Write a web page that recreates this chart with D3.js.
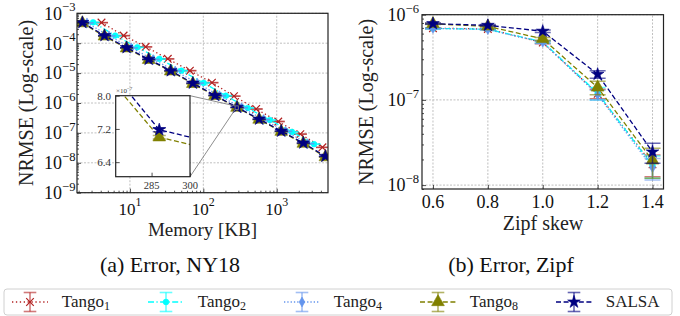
<!DOCTYPE html>
<html>
<head>
<meta charset="utf-8">
<script src="https://cdn.jsdelivr.net/npm/d3@7"></script>
<style>
body { margin: 0; background: #fff; }
svg { display: block; }
svg text { font-family: 'Liberation Serif', 'Times New Roman', 'DejaVu Serif', serif; }
</style>
</head>
<body>
<svg id="fig" width="680" height="316" font-family="Liberation Serif, DejaVu Serif, serif"></svg>
<script>
// ---------- (a) NY18: NRMSE vs memory [KB]
let salsaMem  = [2.25, 4.5, 9, 18, 36, 72, 144, 288, 576, 1152, 2304, 4608];
let salsaNY   = [4.9e-4, 1.8e-4, 7.1e-5, 2.9e-5, 1.2e-5, 4.6e-6, 1.8e-6, 7.18e-7, 2.9e-7, 1.15e-7, 4.6e-8, 1.65e-8];
let salsaNYe  = [5e-6, 2e-6, 7e-7, 3e-7, 1.2e-7, 5e-8, 2e-8, 5e-9, 3e-9, 1.2e-9, 5e-10, 2e-10];

let tango8Mem = [2.25, 4.5, 9, 18, 36, 72, 144, 288, 576, 1152, 2304, 4608];
let tango8NY  = [4.7e-4, 1.7e-4, 6.8e-5, 2.8e-5, 1.15e-5, 4.4e-6, 1.75e-6, 7.0e-7, 2.8e-7, 1.1e-7, 4.4e-8, 1.55e-8];
let tango8NYe = [5e-6, 2e-6, 7e-7, 3e-7, 1.2e-7, 5e-8, 2e-8, 4e-9, 3e-9, 1.2e-9, 5e-10, 2e-10];

let tango4Mem = [2.6, 5.2, 10.4, 20.7, 41.4, 83, 166, 331, 662, 1325, 2650];
let tango4NY  = [4.8e-4, 1.75e-4, 7.0e-5, 2.85e-5, 1.18e-5, 4.6e-6, 1.75e-6, 7.0e-7, 2.8e-7, 1.12e-7, 4.4e-8];
let tango4NYe = [5e-6, 2e-6, 7e-7, 3e-7, 1.2e-7, 5e-8, 2e-8, 7e-9, 3e-9, 1.2e-9, 5e-10];

let tango2Mem = [3.15, 6.3, 12.6, 25.2, 50.4, 101, 202, 403, 806, 1613, 3226];
let tango2NY  = [5.0e-4, 1.8e-4, 7.3e-5, 3.0e-5, 1.2e-5, 4.7e-6, 1.75e-6, 6.8e-7, 2.7e-7, 1.08e-7, 4.2e-8];
let tango2NYe = [5e-6, 2e-6, 7e-7, 3e-7, 1.2e-7, 5e-8, 2e-8, 7e-9, 3e-9, 1.2e-9, 5e-10];

let tango1Mem = [4.1, 8.2, 16.4, 32.8, 65.6, 131, 262, 525, 1050, 2100, 4200];
let tango1NY  = [4.9e-4, 1.8e-4, 7.6e-5, 3.0e-5, 1.2e-5, 4.8e-6, 1.7e-6, 6.3e-7, 2.4e-7, 9.1e-8, 3.3e-8];
let tango1NYe = [5e-6, 2e-6, 8e-7, 3e-7, 1.2e-7, 5e-8, 2e-8, 7e-9, 3e-9, 1e-9, 4e-10];

// ---------- (b) Zipf: NRMSE vs skew
let zipfSkew  = [0.6, 0.8, 1.0, 1.2, 1.4];
let salsaZ    = [7.85e-7, 7.5e-7, 6.4e-7, 2.0e-7, 2.45e-8];
let salsaZe   = [1.5e-8, 1.5e-8, 2e-8, 2e-8, 6.5e-9];
let tango8Z   = [7.8e-7, 7.3e-7, 5.2e-7, 1.4e-7, 1.95e-8];
let tango8Ze  = [1.5e-8, 1.5e-8, 2e-8, 2.5e-8, 7.5e-9];
let tango4Z   = [6.9e-7, 6.7e-7, 4.75e-7, 1.15e-7, 1.6e-8];
let tango4Ze  = [1e-8, 1e-8, 1.5e-8, 1.5e-8, 4.5e-9];
let tango2Z   = [6.9e-7, 6.75e-7, 4.8e-7, 1.2e-7, 1.7e-8];
let tango2Ze  = [1e-8, 1e-8, 1.5e-8, 2e-8, 5e-9];
let tango1Z   = [6.95e-7, 6.8e-7, 4.7e-7, 1.18e-7, 1.75e-8];
let tango1Ze  = [1e-8, 1e-8, 1.5e-8, 1.5e-8, 5e-9];

let seriesNames  = ['Tango', 'Tango', 'Tango', 'Tango', 'SALSA'];
let seriesSubs   = ['1', '2', '4', '8', ''];
let seriesColors = ['#b22222', '#00ffff', '#6495ed', '#808000', '#000080'];

let nyX = [1.9, 5000], nyY = [1e-9, 1e-3];
let nyXTicks = [10, 100, 1000], nyYTicks = [1e-9, 1e-8, 1e-7, 1e-6, 1e-5, 1e-4, 1e-3];
let zX = [0.56, 1.44], zY = [9e-9, 1e-6];
let zXTicks = [0.6, 0.8, 1.0, 1.2, 1.4], zYTicks = [1e-8, 1e-7, 1e-6];
let insetX = [271, 300], insetY = [6.05e-7, 8.0e-7];
let insetXTicks = [285, 300], insetYTicks = [6.4e-7, 7.2e-7, 8.0e-7];

const FONT = "'Liberation Serif', 'DejaVu Serif', serif";

// styles per series (line dash, marker)
let dashes = ['1.3,2.6', '6,2.4,1.3,2.4', '1.3,2', '5,2.6', '5,2.6'];
let markers = [
    null,
    d3.symbol().type(d3.symbolCircle).size(26)(),
    d3.symbol().type(d3.symbolDiamond).size(28)(),
    d3.symbol().type(d3.symbolTriangle).size(70)(),
    d3.symbol().type(d3.symbolStar).size(50)()
];

let nySeries = [
    {x: tango1Mem, y: tango1NY, e: tango1NYe},
    {x: tango2Mem, y: tango2NY, e: tango2NYe},
    {x: tango4Mem, y: tango4NY, e: tango4NYe},
    {x: tango8Mem, y: tango8NY, e: tango8NYe},
    {x: salsaMem, y: salsaNY, e: salsaNYe}
];
let zSeries = [
    {x: zipfSkew, y: tango1Z, e: tango1Ze},
    {x: zipfSkew, y: tango2Z, e: tango2Ze},
    {x: zipfSkew, y: tango4Z, e: tango4Ze},
    {x: zipfSkew, y: tango8Z, e: tango8Ze},
    {x: zipfSkew, y: salsaZ, e: salsaZe}
];

let svg = d3.select('#fig');
let clipId = 0;

function label(g, x, y, size, anchor) {
    return g.append('text')
        .attr('x', x).attr('y', y)
        .attr('text-anchor', anchor || 'start')
        .attr('font-size', size)
        .attr('font-family', FONT)
        .style('font-family', FONT)
        .attr('fill', '#111');
}

function drawMarker(g, i, cx, cy) {
    let c = seriesColors[i];
    if (i === 0) {
        g.append('path')
            .attr('d', 'M-3.8,-3.8L3.8,3.8M-3.8,3.8L3.8,-3.8')
            .attr('transform', `translate(${cx},${cy})`)
            .attr('stroke', c).attr('stroke-width', 1.2).attr('fill', 'none');
    } else {
        g.append('path')
            .attr('d', markers[i])
            .attr('transform', `translate(${cx},${cy})`)
            .attr('fill', c).attr('stroke', c).attr('stroke-width', 0.6);
    }
}

function drawSeries(g, x, y, s, i, capW) {
    let pts = s.x.map((v, k) => ({x: v, y: s.y[k], e: s.e[k]}));
    let c = seriesColors[i];
    g.append('path')
        .datum(pts)
        .attr('d', d3.line().x(d => x(d.x)).y(d => y(d.y)))
        .attr('fill', 'none')
        .attr('stroke', c)
        .attr('stroke-width', 1.3)
        .attr('stroke-dasharray', dashes[i]);

    let eb = g.append('g')
        .attr('stroke', c)
        .attr('stroke-opacity', 0.6)
        .attr('stroke-width', 1.5);
    pts.forEach(d => {
        let xx = x(d.x), ylo = y(d.y - d.e), yhi = y(d.y + d.e);
        eb.append('line').attr('x1', xx).attr('x2', xx).attr('y1', ylo).attr('y2', yhi);
        eb.append('line').attr('x1', xx - capW).attr('x2', xx + capW).attr('y1', ylo).attr('y2', ylo);
        eb.append('line').attr('x1', xx - capW).attr('x2', xx + capW).attr('y1', yhi).attr('y2', yhi);
    });
    pts.forEach(d => drawMarker(g, i, x(d.x), y(d.y)));
}

function clipRect(x0, y0, w, h) {
    let id = 'clip' + (clipId++);
    svg.append('clipPath').attr('id', id)
        .append('rect').attr('x', x0).attr('y', y0).attr('width', w).attr('height', h);
    return `url(#${id})`;
}

function gridLines(g, x, y, xt, yt) {
    let [x0, x1] = x.range(), [y0, y1] = y.range();
    let gg = g.append('g')
        .attr('stroke', '#b0b0b0')
        .attr('stroke-width', 0.8)
        .attr('stroke-dasharray', '2,1.5');
    xt.forEach(t => gg.append('line').attr('x1', x(t)).attr('x2', x(t)).attr('y1', y0).attr('y2', y1));
    yt.forEach(t => gg.append('line').attr('x1', x0).attr('x2', x1).attr('y1', y(t)).attr('y2', y(t)));
}

function logMinors(domain) {
    let out = [];
    for (let p = Math.floor(Math.log10(domain[0])); p <= Math.ceil(Math.log10(domain[1])); p++) {
        for (let m = 2; m < 10; m++) {
            let v = m * Math.pow(10, p);
            if (v > domain[0] && v < domain[1]) out.push(v);
        }
    }
    return out;
}

function powLabel(g, x, y, exp, anchor, size) {
    let t = label(g, x, y, size, anchor);
    t.append('tspan').text('10');
    t.append('tspan').attr('dy', -8.3).attr('font-size', size * 0.7).text(exp);
}

function frame(g, x, y) {
    let [x0, x1] = x.range(), [y0, y1] = y.range();
    g.append('rect')
        .attr('x', x0).attr('y', y1)
        .attr('width', x1 - x0).attr('height', y0 - y1)
        .attr('fill', 'none').attr('stroke', '#222').attr('stroke-width', 1.2);
}

function tickAxes(g, x, y, xMajor, yMajor, xMinor, yMinor) {
    let [x0, x1] = x.range(), [y0, y1] = y.range();
    g.append('g').attr('transform', `translate(0,${y0})`)
        .call(d3.axisBottom(x).tickValues(xMajor).tickSize(-4).tickFormat(''));
    g.append('g').attr('transform', `translate(${x0},0)`)
        .call(d3.axisLeft(y).tickValues(yMajor).tickSize(-4).tickFormat(''));
    if (xMinor) g.append('g').attr('transform', `translate(0,${y0})`)
        .call(d3.axisBottom(x).tickValues(xMinor).tickSize(-2).tickFormat(''));
    if (yMinor) g.append('g').attr('transform', `translate(${x0},0)`)
        .call(d3.axisLeft(y).tickValues(yMinor).tickSize(-2).tickFormat(''));
    g.selectAll('.domain').remove();
    g.selectAll('.tick line').attr('stroke', '#222').attr('stroke-width', 0.8);
}

// ================= panel (a)
let xA = d3.scaleLog().domain(nyX).range([77, 328]);
let yA = d3.scaleLog().domain(nyY).range([192.7, 13.3]);
let gA = svg.append('g');
gridLines(gA, xA, yA, nyXTicks, nyYTicks);
let plotA = gA.append('g').attr('clip-path', clipRect(77, 13.3, 251, 179.4));
nySeries.forEach((s, i) => drawSeries(plotA, xA, yA, s, i, 6.5));
tickAxes(gA, xA, yA, nyXTicks, nyYTicks, logMinors(nyX), logMinors(nyY));
frame(gA, xA, yA);
nyYTicks.forEach(t => powLabel(gA, 75.5, yA(t) + 6.3, '\u2212' + Math.round(-Math.log10(t)), 'end', 18));
nyXTicks.forEach(t => powLabel(gA, xA(t), 214.5, String(Math.round(Math.log10(t))), 'middle', 17));

// inset zoom box
let xI = d3.scaleLinear().domain(insetX).range([115.7, 190]);
let yI = d3.scaleLinear().domain(insetY).range([176.7, 95.7]);
let rx0 = xA(insetX[0]), rx1 = xA(insetX[1]), ry0 = yA(insetY[1]), ry1 = yA(insetY[0]);
let conn = gA.append('g').attr('stroke', '#808080').attr('stroke-width', 0.9).attr('fill', 'none');
conn.append('rect').attr('x', rx0).attr('y', ry0).attr('width', rx1 - rx0).attr('height', ry1 - ry0);
conn.append('line').attr('x1', 190).attr('y1', 95.7).attr('x2', rx0).attr('y2', ry0);
conn.append('line').attr('x1', 190).attr('y1', 176.7).attr('x2', rx0).attr('y2', ry1);

let gI = svg.append('g');
gI.append('rect').attr('x', 115.7).attr('y', 95.7).attr('width', 74.3).attr('height', 81).attr('fill', '#fff');
let plotI = gI.append('g').attr('clip-path', clipRect(115.7, 95.7, 74.3, 81));
nySeries.forEach((s, i) => drawSeries(plotI, xI, yI, s, i, 6.5));
tickAxes(gI, xI, yI, insetXTicks, insetYTicks);
frame(gI, xI, yI);
insetYTicks.forEach(t => label(gI, 111, yI(t) + 3.8, 11, 'end')
    .attr('fill', '#333').text((t * 1e7).toFixed(1)));
insetXTicks.forEach(t => label(gI, xI(t), 189, 10.5, 'middle')
    .attr('fill', '#333').text(t));
let off = label(gI, 116, 92.5, 7).attr('fill', '#333');
off.append('tspan').text('\u00d710');
off.append('tspan').attr('dy', -3).attr('font-size', 5).text('\u22127');

label(gA, 0, 0, 20, 'middle')
    .attr('transform', 'translate(33,103) rotate(-90)')
    .attr('fill', '#222').text('NRMSE (Log-scale)');
label(gA, 202.5, 235.5, 19, 'middle').attr('fill', '#222').text('Memory [KB]');

// ================= panel (b)
let xB = d3.scaleLinear().domain(zX).range([422, 663.5]);
let yB = d3.scaleLog().domain(zY).range([189, 14.7]);
let gB = svg.append('g');
gridLines(gB, xB, yB, zXTicks, zYTicks);
let plotB = gB.append('g').attr('clip-path', clipRect(422, 14.7, 241.5, 174.3));
zSeries.forEach((s, i) => drawSeries(plotB, xB, yB, s, i, 8));
tickAxes(gB, xB, yB, zXTicks, zYTicks, null, logMinors(zY));
frame(gB, xB, yB);
zYTicks.forEach(t => powLabel(gB, 419, yB(t) + 6.3, '\u2212' + Math.round(-Math.log10(t)), 'end', 18));
zXTicks.forEach(t => label(gB, xB(t), 208.3, 18, 'middle').text(t.toFixed(1)));
label(gB, 0, 0, 20, 'middle')
    .attr('transform', 'translate(373,102) rotate(-90)')
    .attr('fill', '#222').text('NRMSE (Log-scale)');
label(gB, 543, 230, 20, 'middle').attr('fill', '#222').text('Zipf skew');

// sub captions
label(svg, 170, 272, 22, 'middle').text('(a) Error, NY18');
label(svg, 511, 272, 22, 'middle').text('(b) Error, Zipf');

// ================= legend
let leg = svg.append('g');
leg.append('rect')
    .attr('x', 4).attr('y', 289).attr('width', 668).attr('height', 26).attr('rx', 3)
    .attr('fill', '#fff').attr('stroke', '#d0d0d0').attr('stroke-width', 1);
seriesNames.forEach((name, i) => {
    let cx = 30 + 136 * i, cy = 302;
    let h = leg.append('g');
    let c = seriesColors[i];
    h.append('line').attr('x1', cx - 18).attr('x2', cx + 18).attr('y1', cy).attr('y2', cy)
        .attr('stroke', c).attr('stroke-width', 1.3).attr('stroke-dasharray', dashes[i]);
    let eb = h.append('g').attr('stroke', c).attr('stroke-opacity', 0.6).attr('stroke-width', 1.6);
    eb.append('line').attr('x1', cx).attr('x2', cx).attr('y1', cy - 9.5).attr('y2', cy + 9.5);
    eb.append('line').attr('x1', cx - 6.3).attr('x2', cx + 6.3).attr('y1', cy - 9.5).attr('y2', cy - 9.5);
    eb.append('line').attr('x1', cx - 6.3).attr('x2', cx + 6.3).attr('y1', cy + 9.5).attr('y2', cy + 9.5);
    drawMarker(h, i, cx, cy);
    let t = label(leg, cx + 31.7, 306.5, 17).attr('fill', '#222');
    t.append('tspan').text(name);
    if (seriesSubs[i]) t.append('tspan').attr('dy', 3).attr('font-size', 12).text(seriesSubs[i]);
});
</script>
</body>
</html>
